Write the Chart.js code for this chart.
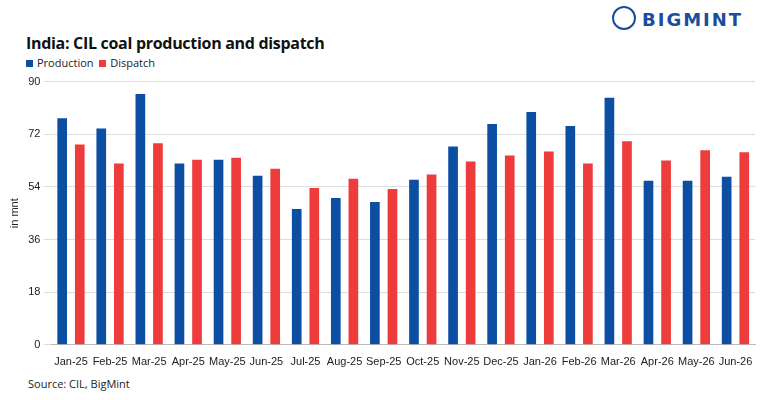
<!DOCTYPE html>
<html><head><meta charset="utf-8">
<script src="https://cdn.jsdelivr.net/npm/chart.js@4/dist/chart.umd.min.js"></script>
<style>
body{margin:0;width:769px;height:400px;background:#fff;font-family:"Open Sans",Arial,sans-serif;position:relative;overflow:hidden}
#t{position:absolute;left:26px;top:32px;font-size:16px;font-weight:bold;color:#111;letter-spacing:-0.3px}
#lg{position:absolute;left:26px;top:55px;font-size:11px;color:#222}
#lg span{display:inline-block;width:7px;height:7px;margin-right:4px}
#src{position:absolute;left:28px;top:376px;font-size:11px;color:#222}
#logo{position:absolute;left:612px;top:6px;font-size:18px;font-weight:bold;color:#1a4d9c;letter-spacing:2px;font-family:"DejaVu Sans",sans-serif}
#logo i{display:inline-block;width:20px;height:20px;border-radius:50%;border:2px solid #1a4d9c;vertical-align:-4px;margin-right:6px}
#c{position:absolute;left:0;top:72px}
</style></head><body>
<div id="logo"><i></i>BIGMINT</div>
<div id="t">India: CIL coal production and dispatch</div>
<div id="lg"><span style="background:#0B4EA2"></span>Production &nbsp;<span style="background:#EE3B3B"></span>Dispatch</div>
<div id="src">Source: CIL, BigMint</div>
<canvas id="c" width="769" height="300"></canvas>
<script>
const categories=["Jan-25","Feb-25","Mar-25","Apr-25","May-25","Jun-25","Jul-25","Aug-25","Sep-25","Oct-25","Nov-25","Dec-25","Jan-26","Feb-26","Mar-26","Apr-26","May-26","Jun-26"];
const production=[77.5,74,85.8,62,63.3,57.8,46.4,50.2,48.8,56.4,67.8,75.5,79.6,74.8,84.5,56.1,56.1,57.5];
const dispatch=[68.5,62,68.9,63.3,64,60.2,53.6,56.8,53.3,58.2,62.7,64.7,66.1,62,69.6,63,66.5,65.8];
new Chart(document.getElementById('c'),{type:'bar',
data:{labels:categories,datasets:[
{label:'Production',data:production,backgroundColor:'#0B4EA2',barPercentage:0.55,categoryPercentage:0.9},
{label:'Dispatch',data:dispatch,backgroundColor:'#EE3B3B',barPercentage:0.55,categoryPercentage:0.9}]},
options:{responsive:false,animation:false,layout:{padding:{left:4,right:14,top:4,bottom:0}},
plugins:{legend:{display:false},tooltip:{enabled:false}},
scales:{x:{grid:{display:false},border:{color:'#bbb'},ticks:{color:'#222',font:{size:11},maxRotation:0,autoSkip:false}},
y:{min:0,max:90,ticks:{stepSize:18,color:'#222',font:{size:11}},grid:{color:'#ddd'},border:{display:false},
title:{display:true,text:'in mnt',color:'#222',font:{size:11}}}}}});
</script></body></html>
